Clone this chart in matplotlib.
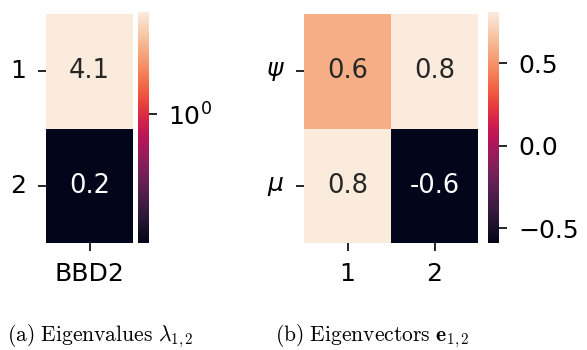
import numpy as np
import matplotlib
matplotlib.use("Agg")
import matplotlib.pyplot as plt
import seaborn as sns
from matplotlib.colors import LogNorm

# data
eig_rows = ["1", "2"]
eig_cols = ["BBD2"]
eigenvalues = [[4.1], [0.17]]

vec_rows = [r"$\psi$", r"$\mu$"]
vec_cols = ["1", "2"]
eigenvectors = [[0.59, 0.81], [0.81, -0.59]]

captions = [r"$\mathrm{(a)\ Eigenvalues}\ \lambda_{1,2}$",
            r"$\mathrm{(b)\ Eigenvectors}\ \mathbf{e}_{1,2}$"]

plt.rcParams["mathtext.fontset"] = "dejavusans"
fig = plt.figure(figsize=(5.87, 3.5), dpi=100)

W, H = 587, 350
def box(x0, y0, x1, y1):
    return [x0 / W, (H - y1) / H, (x1 - x0) / W, (y1 - y0) / H]

ax1 = fig.add_axes(box(46, 14, 133, 243))
cax1 = fig.add_axes(box(138, 12, 149, 243))
ax2 = fig.add_axes(box(304, 14, 478, 243))
cax2 = fig.add_axes(box(488, 12, 499, 243))

tick_fs = 18
ann_fs = 18.5

sns.heatmap(np.array(eigenvalues), ax=ax1, cbar_ax=cax1, annot=True, fmt=".1f",
            norm=LogNorm(), xticklabels=eig_cols, yticklabels=eig_rows,
            annot_kws={"fontsize": ann_fs})
sns.heatmap(np.array(eigenvectors), ax=ax2, cbar_ax=cax2, annot=True, fmt=".1f",
            xticklabels=vec_cols, yticklabels=vec_rows,
            annot_kws={"fontsize": ann_fs})

for ax in (ax1, ax2):
    ax.tick_params(labelsize=tick_fs, length=6, width=1.2, pad=8)
    ax.set_yticklabels(ax.get_yticklabels(), rotation=0)
for cax in (cax1, cax2):
    cax.tick_params(labelsize=tick_fs, length=6, width=1.2, pad=8, which="major")
    cax.minorticks_off()
cax2.set_yticks([-0.5, 0.0, 0.5])

fig.text(7 / W, 1 - 341 / H, captions[0], fontsize=15.5, va="baseline",
         math_fontfamily="cm")
fig.text(275 / W, 1 - 341 / H, captions[1], fontsize=15.5, va="baseline",
         math_fontfamily="cm")

fig.savefig("out.png", dpi=100)
